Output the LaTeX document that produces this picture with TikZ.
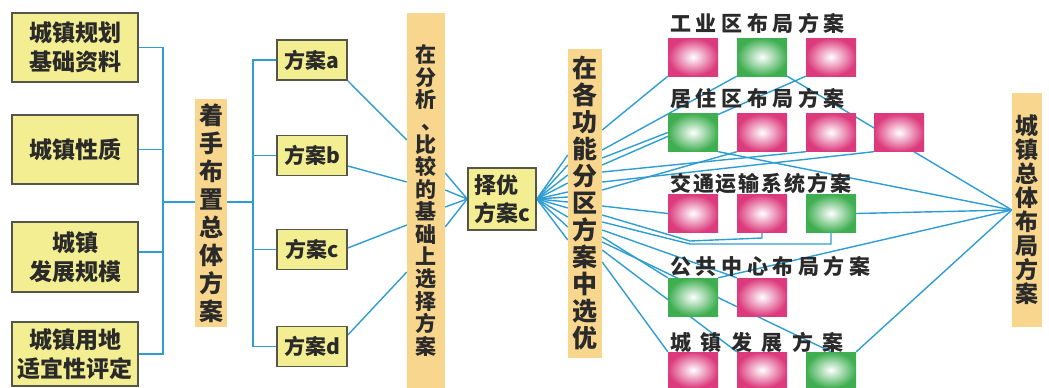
\documentclass[tikz,border=0pt]{standalone}
\usepackage{fontspec}
\setmainfont{Noto Sans CJK SC}
\usetikzlibrary{calc}
\definecolor{boxfill}{HTML}{F4EE92}
\definecolor{boxdraw}{HTML}{55554A}
\definecolor{tallfill}{HTML}{F8D68E}
\definecolor{linec}{HTML}{2E9ED2}
\definecolor{pinkc}{HTML}{DC3A7C}
\definecolor{greenc}{HTML}{3EAE50}
\definecolor{txt}{HTML}{2A2A2A}
\pgfdeclarelayer{bg}
\pgfsetlayers{bg,main}
\begin{document}
\begin{tikzpicture}[x=1pt,y=-1pt,
  ybox/.style={draw=boxdraw, line width=1.6pt, fill=boxfill, inner sep=0pt, align=center, text=txt, minimum width=126pt, font=\fontsize{23}{29}\selectfont\bfseries},
  sbox/.style={draw=boxdraw, line width=1.6pt, fill=boxfill, inner sep=0pt, align=center, text=txt, minimum width=70pt, minimum height=40pt, font=\fontsize{21}{26}\selectfont\bfseries},
  tall/.style={fill=tallfill, inner sep=0pt, align=center, text=txt},
  conn/.style={draw=linec, line width=1.4pt},
  psq/.style={minimum width=50pt, minimum height=38pt, inner sep=0pt, inner color=white, outer color=pinkc},
  gsq/.style={minimum width=50pt, minimum height=38pt, inner sep=0pt, inner color=white, outer color=greenc},
  lbl/.style={anchor=west, inner sep=0pt, text=txt}
]
\useasboundingbox (0,0) rectangle (1049,388);

% left input boxes
\node[ybox, minimum height=69pt] (b1) at (75,47.5) {城镇规划\\基础资料};
\node[ybox, minimum height=69pt] (b2) at (75,149.5) {城镇性质};
\node[ybox, minimum height=70pt] (b3) at (75,257) {城镇\\发展规模};
\node[ybox, minimum height=64pt] (b4) at (75,354) {城镇用地\\适宜性评定};

% tall stages
\node[tall, minimum width=32pt, minimum height=228pt, font=\fontsize{24}{28}\selectfont\bfseries] (t1) at (211,213)
  {着\\手\\布\\置\\总\\体\\方\\案};
\node[tall, minimum width=38pt, minimum height=375pt, font=\fontsize{21}{22.4}\selectfont\bfseries] (t2) at (426,200.5)
  {在\\分\\析\\\raisebox{1pt}{\kern12pt 、}\\比\\较\\的\\基\\础\\上\\选\\择\\方\\案};
\node[tall, minimum width=34pt, minimum height=309pt, font=\fontsize{25}{27}\selectfont\bfseries] (t3) at (585,203.5)
  {在\\各\\功\\能\\分\\区\\方\\案\\中\\选\\优};
\node[tall, minimum width=30pt, minimum height=234pt, font=\fontsize{23}{24}\selectfont\bfseries] (t4) at (1027,210)
  {城\\镇\\总\\体\\布\\局\\方\\案};

% schemes
\node[sbox] (pa) at (312,60) {方案a};
\node[sbox] (pb) at (312,155.5) {方案b};
\node[sbox] (pc) at (312,249.5) {方案c};
\node[sbox] (pd) at (312,346.5) {方案d};
\node[sbox, minimum width=68pt, minimum height=62pt, align=left, font=\fontsize{22}{28}\selectfont\bfseries] (cho) at (502,199) {择优\\方案c};

% functional-area squares
\node[psq] (r1a) at (693,57) {};
\node[gsq] (r1b) at (762,57) {};
\node[psq] (r1c) at (831,57) {};
\node[gsq] (r2a) at (693,132.5) {};
\node[psq] (r2b) at (762,132.5) {};
\node[psq] (r2c) at (831,132.5) {};
\node[psq] (r2d) at (899,132.5) {};
\node[psq] (r3a) at (693,213.5) {};
\node[psq] (r3b) at (762,213.5) {};
\node[gsq] (r3c) at (831,213.5) {};
\node[gsq] (r4a) at (693,297) {};
\node[psq] (r4b) at (762,297) {};
\node[psq, minimum height=36pt] (r5a) at (693,370) {};
\node[psq, minimum height=36pt] (r5b) at (762,370) {};
\node[gsq, minimum height=36pt] (r5c) at (831,370) {};

% labels
\node[lbl, font=\fontsize{21}{24}\selectfont\bfseries\addfontfeature{LetterSpace=22}] (l1) at (670,23) {工业区布局方案};
\node[lbl, font=\fontsize{21}{24}\selectfont\bfseries\addfontfeature{LetterSpace=22}] (l2) at (670,98) {居住区布局方案};
\node[lbl, font=\fontsize{21}{24}\selectfont\bfseries\addfontfeature{LetterSpace=9}] (l3) at (670,183) {交通运输系统方案};
\node[lbl, font=\fontsize{21}{24}\selectfont\bfseries\addfontfeature{LetterSpace=22}] (l4) at (670,266) {公共中心布局方案};
\node[lbl, font=\fontsize{21}{24}\selectfont\bfseries\addfontfeature{LetterSpace=45}] (l5) at (670,342) {城镇发展方案};

\begin{pgfonlayer}{bg}
\fill[white] (0,0) rectangle (1049,388);
% left tree
\coordinate (j1) at (163,202);
\coordinate (j2) at (253,202);
\draw[conn] (b1.east) -| (j1);
\draw[conn] (b2.east) -| (j1);
\draw[conn] (b3.east |- 0,252) -| (j1);
\draw[conn] (b4.east) -| (j1);
\draw[conn] (j1) -- (j1 -| t1.west);
\draw[conn] (t1.east |- j1) -- (j2);
\draw[conn] (j2) |- (pa.west);
\draw[conn] (j2) |- (pb.west);
\draw[conn] (j2) |- (pc.west);
\draw[conn] (j2) |- (pd.west);
% schemes to comparison
\draw[conn] (pa.south east) -- (t2.west |- 0,140);
\draw[conn] (pb.east |- 0,166) -- (t2.west |- 0,182);
\draw[conn] (pc.east |- 0,248) -- (t2.west |- 0,225);
\draw[conn] (pd.east |- 0,335) -- (t2.west |- 0,272);
\foreach \yy in {173,190,207,227}
  \draw[conn] (t2.east |- 0,\yy) -- (cho.west);
\foreach \yy in {155,165,175,183,192,197,202,208,217,227,240}
  \draw[conn] (cho.east) -- (t3.west |- 0,\yy);
% selection lines to squares
\draw[conn] (t3.east |- 0,130) -- (r1a.south west);
\draw[conn] (t3.east |- 0,150) -- (r1b.south west);
\draw[conn] (t3.east |- 0,165) -- (r1c.south west);
\draw[conn] (t3.east |- 0,158) -- (r2a.west);
\draw[conn] (t3.east |- 0,172) -- (r2c.south west);
\draw[conn] (t3.east |- 0,182) -- (r2d.south west);
\draw[conn] (t3.east |- 0,190) -- (r2b.south west);
\draw[conn] (t3.east |- 0,206) -- (r3a.west);
\draw[conn] (t3.east |- 0,215) -- (690,241) -- (r3b.south |- 0,238) -- (r3b.south);
\draw[conn] (t3.east |- 0,222) -- (690,244) -- (r3c.south |- 0,244) -- (r3c.south);
\draw[conn] (t3.east |- 0,230) -- (r4b.north west);
\draw[conn] (t3.east |- 0,237) -- (r4a.north west);
\draw[conn] (t3.east |- 0,242) -- (r5c.north);
\draw[conn] (t3.east |- 0,250) -- (r5b.north west);
\draw[conn] (t3.east |- 0,262) -- (r5a.north west);
% chosen squares to overall plan
\draw[conn] (r1b.south east) -- (t4.west);
\draw[conn] (r2a.south east) -- (t4.west);
\draw[conn] (r3c.east) -- (t4.west);
\draw[conn] (r4a.north east) -- (t4.west);
\draw[conn] (r5c.north east) -- (t4.west);
\end{pgfonlayer}
\end{tikzpicture}
\end{document}
